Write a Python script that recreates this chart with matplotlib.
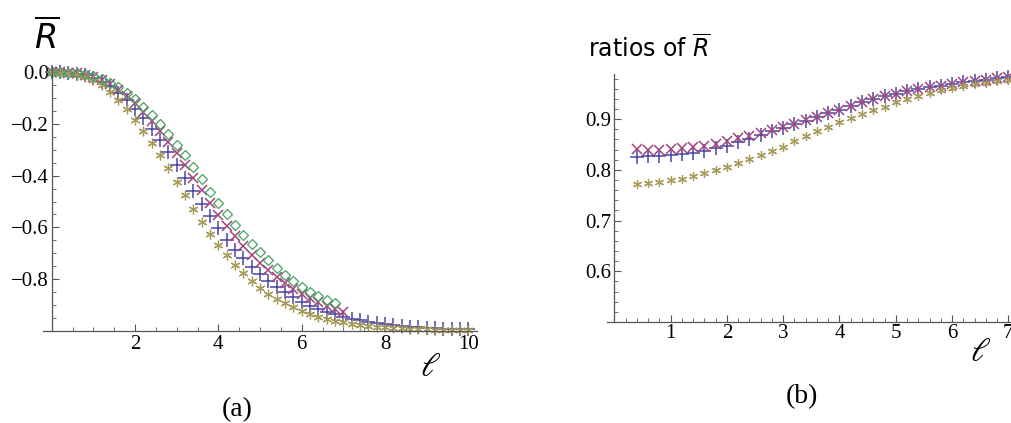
import matplotlib
matplotlib.use('Agg')
import matplotlib.pyplot as plt
from matplotlib.ticker import MultipleLocator, FixedLocator

# panel (a): R-bar against l
l_left = [0.0, 0.2, 0.4, 0.6, 0.8, 1.0, 1.2, 1.4, 1.6, 1.8,
          2.0, 2.2, 2.4, 2.6, 2.8, 3.0, 3.2, 3.4, 3.6, 3.8,
          4.0, 4.2, 4.4, 4.6, 4.8, 5.0, 5.2, 5.4, 5.6, 5.8,
          6.0, 6.2, 6.4, 6.6, 6.8, 7.0, 7.2, 7.4, 7.6, 7.8,
          8.0, 8.2, 8.4, 8.6, 8.8, 9.0, 9.2, 9.4, 9.6, 9.8, 10.0]
R_blue = [0.000, 0.000, -0.002, -0.005, -0.011, -0.021, -0.035, -0.054, -0.078, -0.107,
          -0.140, -0.177, -0.218, -0.262, -0.309, -0.358, -0.408, -0.459, -0.508, -0.556,
          -0.603, -0.648, -0.686, -0.720, -0.752, -0.781, -0.807, -0.831, -0.852, -0.871,
          -0.888, -0.903, -0.916, -0.927, -0.937, -0.946, -0.953, -0.959, -0.965, -0.970,
          -0.974, -0.978, -0.981, -0.984, -0.986, -0.988, -0.990, -0.992, -0.993, -0.994, -0.995]
R_magenta = [0.000, 0.000, -0.001, -0.004, -0.009, -0.017, -0.029, -0.045, -0.066, -0.091,
             -0.120, -0.152, -0.188, -0.227, -0.269, -0.313, -0.359, -0.407, -0.456, -0.505,
             -0.551, -0.594, -0.635, -0.672, -0.706, -0.737, -0.766, -0.792, -0.816, -0.838,
             -0.857, -0.874, -0.890, -0.904, -0.916, -0.926]
R_gold = [0.000, -0.001, -0.003, -0.008, -0.017, -0.031, -0.050, -0.075, -0.106, -0.143,
          -0.184, -0.227, -0.273, -0.320, -0.371, -0.423, -0.476, -0.530, -0.579, -0.625,
          -0.667, -0.708, -0.745, -0.778, -0.807, -0.833, -0.856, -0.876, -0.894, -0.910,
          -0.924, -0.936, -0.946, -0.955, -0.962, -0.968, -0.973, -0.977, -0.981, -0.984,
          -0.987, -0.989, -0.991, -0.993, -0.994, -0.995, -0.996, -0.997, -0.998, -0.998, -0.999]
R_green = [0.000, 0.000, -0.001, -0.003, -0.007, -0.014, -0.025, -0.039, -0.057, -0.079,
           -0.104, -0.132, -0.164, -0.199, -0.238, -0.279, -0.321, -0.368, -0.414, -0.461,
           -0.506, -0.547, -0.590, -0.629, -0.663, -0.697, -0.728, -0.757, -0.785, -0.809,
           -0.831, -0.850, -0.867, -0.881, -0.893]

# panel (b): ratios of R-bar
l_right = [0.4, 0.6, 0.8, 1.0, 1.2, 1.4, 1.6, 1.8, 2.0, 2.2,
           2.4, 2.6, 2.8, 3.0, 3.2, 3.4, 3.6, 3.8, 4.0, 4.2,
           4.4, 4.6, 4.8, 5.0, 5.2, 5.4, 5.6, 5.8, 6.0, 6.2,
           6.4, 6.6, 6.8, 7.0]
ratio_blue = [0.826, 0.827, 0.828, 0.830, 0.832, 0.834, 0.838, 0.843, 0.848, 0.855,
              0.861, 0.868, 0.876, 0.883, 0.890, 0.897, 0.905, 0.912, 0.919, 0.926,
              0.933, 0.939, 0.945, 0.950, 0.955, 0.959, 0.963, 0.966, 0.970, 0.973,
              0.976, 0.978, 0.981, 0.983]
ratio_magenta = [0.841, 0.840, 0.840, 0.841, 0.843, 0.845, 0.848, 0.852, 0.857, 0.862,
                 0.867, 0.872, 0.878, 0.884, 0.891, 0.898, 0.905, 0.912, 0.919, 0.926,
                 0.933, 0.939, 0.945, 0.950, 0.955, 0.959, 0.963, 0.966, 0.970, 0.973,
                 0.976, 0.978, 0.981, 0.983]
ratio_gold = [0.772, 0.775, 0.777, 0.780, 0.783, 0.787, 0.793, 0.799, 0.806, 0.813,
              0.821, 0.829, 0.837, 0.845, 0.856, 0.866, 0.876, 0.885, 0.894, 0.902,
              0.910, 0.918, 0.925, 0.933, 0.939, 0.946, 0.952, 0.957, 0.962, 0.966,
              0.969, 0.972, 0.975, 0.978]

c_blue = '#4846a6'
c_magenta = '#a3437a'
c_gold = '#a69a58'
c_green = '#46a460'
star = (6, 2, 0)

plt.rcParams['font.family'] = 'Liberation Serif'
plt.rcParams['axes.unicode_minus'] = True

fig = plt.figure(figsize=(10.11, 4.23), dpi=100)
ax1 = fig.add_axes([0.0429, 0.2182, 0.4286, 0.6227])
ax2 = fig.add_axes([0.6001, 0.2388, 0.4140, 0.5873])


def mma_axes(ax):
    for s in ['top', 'right']:
        ax.spines[s].set_visible(False)
    ax.spines['left'].set_position(('data', 0))
    for s in ['left', 'bottom']:
        ax.spines[s].set_color('#555555')
        ax.spines[s].set_linewidth(0.9)
    ax.tick_params(which='both', direction='in', color='#555555', labelsize=15)
    ax.tick_params(which='major', length=5, width=0.8)
    ax.tick_params(which='minor', length=3, width=0.6)
    ax.patch.set_visible(False)


# (a)
kw = dict(ls='none', fillstyle='none', clip_on=False)
ax1.plot(l_left, R_blue, marker='+', ms=9.5, mew=1.1, color=c_blue, **kw)
ax1.plot(l_left[:len(R_magenta)], R_magenta, marker='x', ms=7, mew=1.1, color=c_magenta, **kw)
ax1.plot(l_left, R_gold, marker=star, ms=7, mew=0.9, color=c_gold, **kw)
ax1.plot(l_left[:len(R_green)], R_green, marker='D', ms=5, mew=0.9, color=c_green, **kw)
ax1.set_xlim(-0.2, 10.2)
ax1.set_ylim(-1.0, 0.02)
mma_axes(ax1)
ax1.xaxis.set_major_locator(FixedLocator([2, 4, 6, 8, 10]))
ax1.xaxis.set_minor_locator(MultipleLocator(0.5))
ax1.yaxis.set_major_locator(FixedLocator([0.0, -0.2, -0.4, -0.6, -0.8]))
ax1.yaxis.set_major_formatter(lambda v, p: f'{v:.1f}'.replace('-', '\u2212') if v != 0 else '0.0')
ax1.yaxis.set_minor_locator(MultipleLocator(0.05))
ax1.tick_params(axis='x', pad=3)
ax1.tick_params(axis='y', pad=2)

# (b)
ax2.plot(l_right, ratio_blue, marker='+', ms=9.5, mew=1.1, color=c_blue, **kw)
ax2.plot(l_right, ratio_magenta, marker='x', ms=7, mew=1.1, color=c_magenta, **kw)
ax2.plot(l_right, ratio_gold, marker=star, ms=6.5, mew=0.9, color=c_gold, **kw)
ax2.set_xlim(-0.135, 7.3)
ax2.set_ylim(0.5, 0.99)
mma_axes(ax2)
ax2.xaxis.set_major_locator(FixedLocator([1, 2, 3, 4, 5, 6, 7]))
ax2.xaxis.set_minor_locator(MultipleLocator(0.2))
ax2.yaxis.set_major_locator(FixedLocator([0.6, 0.7, 0.8, 0.9]))
ax2.yaxis.set_major_formatter(lambda v, p: f'{v:.1f}')
ax2.yaxis.set_minor_locator(MultipleLocator(0.02))
ax2.tick_params(axis='x', pad=1.5)
ax2.tick_params(axis='y', pad=2)

# labels
fig.text(47 / 1011, 1 - 37 / 423, r'$\overline{R}$', fontsize=24, ha='center', va='center',
         math_fontfamily='dejavusans')
fig.text(588 / 1011, 1 - 48 / 423, r'ratios of $\overline{R}$', fontsize=17, ha='left', va='center',
         family='DejaVu Sans', math_fontfamily='dejavusans')
fig.text(431 / 1011, 1 - 368 / 423, r'$\ell$', fontsize=24, ha='center', va='center',
         math_fontfamily='stix')
fig.text(980 / 1011, 1 - 353 / 423, r'$\ell$', fontsize=24, ha='center', va='center',
         math_fontfamily='stix')
fig.text(237 / 1011, 1 - 410 / 423, '(a)', fontsize=20, ha='center', va='center')
fig.text(802 / 1011, 1 - 397 / 423, '(b)', fontsize=20, ha='center', va='center')

fig.savefig('out.png', dpi=100)
